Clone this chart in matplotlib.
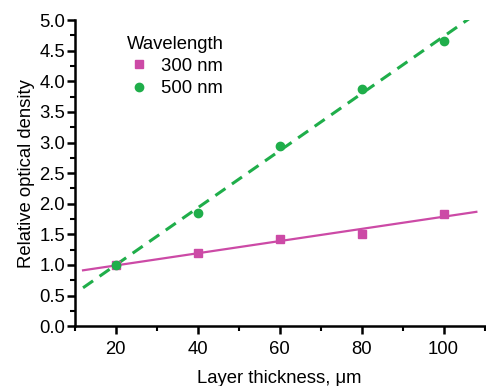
import numpy as np
import matplotlib
matplotlib.use('Agg')
import matplotlib.pyplot as plt
from matplotlib.ticker import MultipleLocator

plt.rcParams['font.family'] = ['Liberation Sans', 'DejaVu Sans']

thickness = [20, 40, 60, 80, 100]
od_300 = [1.0, 1.19, 1.42, 1.50, 1.84]
od_500 = [1.0, 1.85, 2.95, 3.88, 4.65]
fit_range = [12, 108]

magenta = '#cc4aa6'
green = '#1fae4a'
fs = 13.3

fig = plt.figure(figsize=(4.86, 3.86), dpi=100)
ax = fig.add_axes([0.154, 0.155, 0.843, 0.793])

# straight-line fits through each series
xf = np.array(fit_range)
k, b = np.polyfit(thickness, od_300, 1)
ax.plot(xf, k * xf + b, color=magenta, lw=1.6)
k, b = np.polyfit(thickness, od_500, 1)
ax.plot(xf, k * xf + b, color=green, lw=2.2, ls=(0, (4, 2.6)))

ax.plot(thickness, od_300, 's', color=magenta, ms=5.5, label='300 nm')
ax.plot(thickness, od_500, 'o', color=green, ms=6, label='500 nm')

ax.set_xlim(10, 110)
ax.set_ylim(0, 5.0)
ax.xaxis.set_major_locator(MultipleLocator(20))
ax.xaxis.set_minor_locator(MultipleLocator(10))
ax.yaxis.set_major_locator(MultipleLocator(0.5))
ax.yaxis.set_minor_locator(MultipleLocator(0.25))
ax.xaxis.set_major_formatter(matplotlib.ticker.FuncFormatter(lambda v, p: '' if v < 15 else '%d' % v))
ax.yaxis.set_major_formatter(matplotlib.ticker.FormatStrFormatter('%.1f'))

for s in ['top', 'right']:
    ax.spines[s].set_visible(False)
for s in ['left', 'bottom']:
    ax.spines[s].set_linewidth(1.8)
ax.tick_params(which='major', direction='out', length=6, width=1.8, labelsize=fs, pad=1)
ax.tick_params(which='minor', direction='out', length=3.5, width=1.5)
ax.tick_params(axis='x', pad=5)

ax.set_xlabel('Layer thickness, μm', fontsize=fs, labelpad=8)
ax.set_ylabel('Relative optical density', fontsize=fs, labelpad=3)

leg = ax.legend(title='Wavelength', loc='upper left', bbox_to_anchor=(0.1, 0.985),
                frameon=False, fontsize=fs, title_fontsize=fs, handletextpad=0.6,
                borderaxespad=0.2, labelspacing=0.28, handlelength=1.2)

plt.savefig('out.png', dpi=100)
